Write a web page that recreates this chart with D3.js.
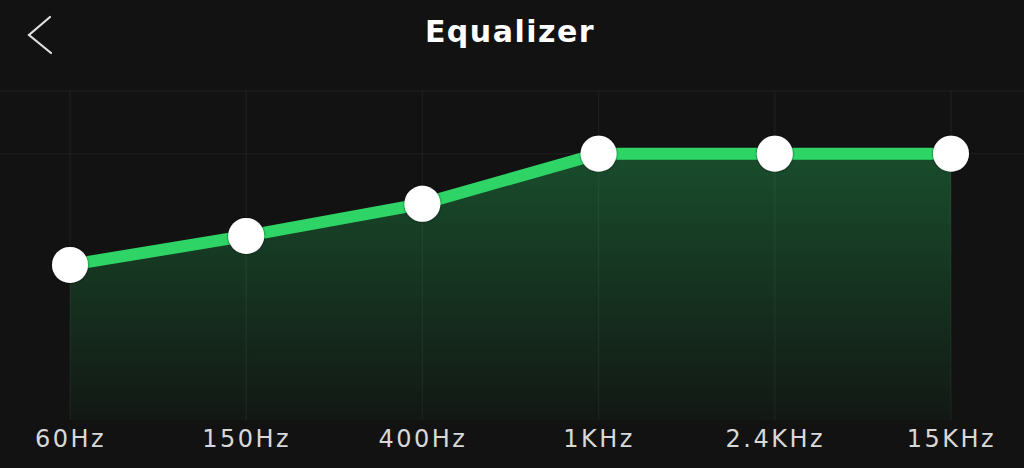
<!DOCTYPE html>
<html>
<head>
<meta charset="utf-8">
<script src="https://cdn.jsdelivr.net/npm/d3@7"></script>
<style>
  html, body { margin: 0; padding: 0; background: #121212; }
  svg { display: block; }
</style>
</head>
<body>
<svg id="chart" width="1024" height="468"></svg>
<script>
// ---- data ----
const bands = ["60Hz", "150Hz", "400Hz", "1KHz", "2.4KHz", "15KHz"];
const gains = [0.9, 2.75, 4.8, 8, 8, 8];
const gridLevels = [12, 8];
const gainDomain = [-9, 12];
const title = "Equalizer";

// ---- layout ----
const W = 1024, H = 468;
const svg = d3.select("#chart");
svg.append("rect").attr("width", W).attr("height", H).attr("fill", "#121212");

const x = d3.scalePoint().domain(bands).range([70, 951]);
const y = d3.scaleLinear().domain(gainDomain).range([420, 91]);

const data = bands.map((b, i) => ({ band: b, gain: gains[i] }));

// gradient
const defs = svg.append("defs");
const grad = defs.append("linearGradient")
  .attr("id", "fillGrad")
  .attr("gradientUnits", "userSpaceOnUse")
  .attr("x1", 0).attr("x2", 0)
  .attr("y1", y(d3.max(gains))).attr("y2", y(gainDomain[0]));
grad.append("stop").attr("offset", "0%").attr("stop-color", "#194d2c");
grad.append("stop").attr("offset", "100%").attr("stop-color", "#121814");

const shadow = defs.append("filter").attr("id", "ptShadow")
  .attr("x", "-30%").attr("y", "-30%").attr("width", "160%").attr("height", "160%");
shadow.append("feDropShadow").attr("dx", 0).attr("dy", 0)
  .attr("stdDeviation", 1.2).attr("flood-color", "#000").attr("flood-opacity", 0.8);

// area fill
const area = d3.area()
  .x(d => x(d.band))
  .y0(y(gainDomain[0]))
  .y1(d => y(d.gain));
svg.append("path").datum(data).attr("d", area).attr("fill", "url(#fillGrad)");

// grid: horizontal
svg.append("g").selectAll("line").data(gridLevels).join("line")
  .attr("x1", 0).attr("x2", W)
  .attr("y1", d => y(d)).attr("y2", d => y(d))
  .attr("stroke", "rgba(255,255,255,0.045)").attr("stroke-width", 1.5);

// grid: vertical
svg.append("g").selectAll("line").data(bands).join("line")
  .attr("x1", d => x(d)).attr("x2", d => x(d))
  .attr("y1", y(gridLevels[0])).attr("y2", y(gainDomain[0]))
  .attr("stroke", "rgba(255,255,255,0.045)").attr("stroke-width", 1.5);

// line
const line = d3.line().x(d => x(d.band)).y(d => y(d.gain));
svg.append("path").datum(data).attr("d", line)
  .attr("fill", "none").attr("stroke", "#2ed566")
  .attr("stroke-width", 12).attr("stroke-linejoin", "round");

// points
svg.append("g").selectAll("circle").data(data).join("circle")
  .attr("cx", d => x(d.band)).attr("cy", d => y(d.gain))
  .attr("r", 18)
  .attr("fill", "#ffffff")
  .attr("filter", "url(#ptShadow)");

// x axis labels
const xAxis = d3.axisBottom(x).tickSize(0).tickPadding(0);
const ax = svg.append("g").attr("transform", "translate(0,430)").call(xAxis);
ax.select(".domain").remove();
ax.selectAll("text")
  .attr("dy", "0.71em")
  .attr("y", 0)
  .attr("fill", "#d8d8d8")
  .style("font-family", "'DejaVu Sans', sans-serif")
  .style("font-size", "24px")
  .style("letter-spacing", "2.5px");

// title
svg.append("text")
  .attr("x", 510).attr("y", 42)
  .attr("text-anchor", "middle")
  .attr("fill", "#ffffff")
  .style("font-family", "'DejaVu Sans', sans-serif")
  .style("font-weight", "bold")
  .style("font-size", "30px")
  .style("letter-spacing", "1.5px")
  .text(title);

// back chevron
svg.append("path")
  .attr("d", d3.line()([[50, 17], [29, 35], [51, 53]]))
  .attr("fill", "none").attr("stroke", "#e0e0e0")
  .attr("stroke-width", 2.2).attr("stroke-linecap", "round").attr("stroke-linejoin", "miter");
</script>
</body>
</html>
